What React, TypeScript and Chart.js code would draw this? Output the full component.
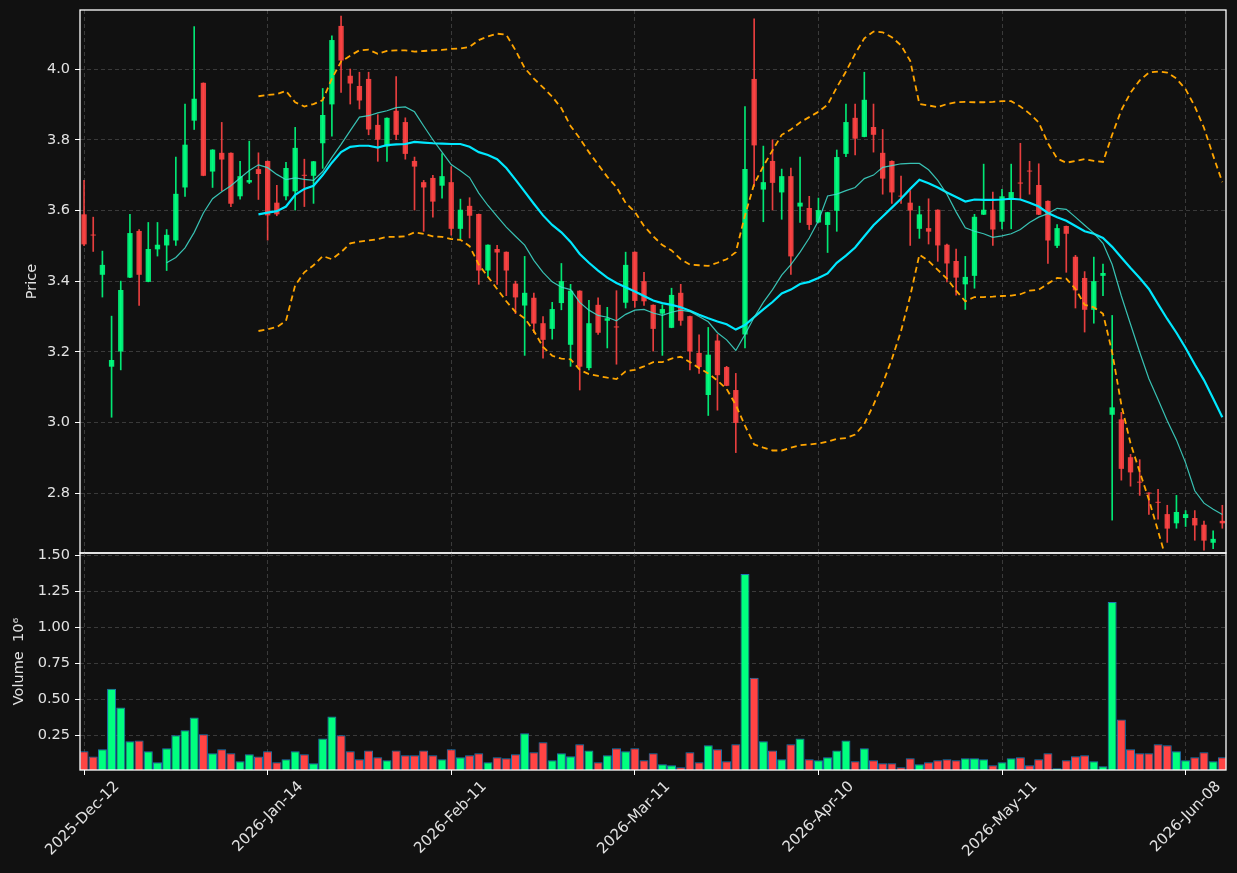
import React, { useEffect, useRef } from 'react';
import { Chart, registerables } from 'chart.js';

Chart.register(...registerables);

// ---------------- data ----------------
const xTickIndex = [0, 20, 40, 60, 80, 100, 120];
const xTickLabels = ['2025-Dec-12', '2026-Jan-14', '2026-Feb-11', '2026-Mar-11', '2026-Apr-10', '2026-May-11', '2026-Jun-08'];
const priceTicks = [2.8, 3.0, 3.2, 3.4, 3.6, 3.8, 4.0];
const volumeTicks = [0.25, 0.5, 0.75, 1.0, 1.25, 1.5];

const opens = [
  3.589, 3.531, 3.418, 3.158, 3.201, 3.410, 3.542, 3.398, 3.490, 3.501,
  3.515, 3.665, 3.854, 3.961, 3.710, 3.763, 3.763, 3.640, 3.679, 3.717,
  3.740, 3.622, 3.640, 3.654, 3.700, 3.698, 3.790, 3.900, 4.122, 3.981,
  3.952, 3.972, 3.842, 3.781, 3.882, 3.850, 3.740, 3.680, 3.692, 3.670,
  3.680, 3.548, 3.613, 3.590, 3.430, 3.491, 3.483, 3.393, 3.331, 3.353,
  3.281, 3.265, 3.338, 3.220, 3.373, 3.154, 3.333, 3.288, 3.271, 3.339,
  3.483, 3.400, 3.333, 3.308, 3.268, 3.367, 3.301, 3.197, 3.078, 3.232,
  3.157, 3.092, 3.249, 3.972, 3.659, 3.740, 3.651, 3.697, 3.611, 3.607,
  3.566, 3.559, 3.599, 3.760, 3.862, 3.808, 3.836, 3.763, 3.740, 3.641,
  3.622, 3.548, 3.550, 3.602, 3.503, 3.457, 3.391, 3.415, 3.588, 3.602,
  3.568, 3.634, 3.679, 3.712, 3.672, 3.627, 3.500, 3.556, 3.469, 3.409,
  3.319, 3.415, 3.022, 3.009, 2.902, 2.832, 2.801, 2.775, 2.741, 2.715,
  2.730, 2.730, 2.711, 2.660, 2.722,
];
const highs = [
  3.685, 3.581, 3.485, 3.301, 3.400, 3.589, 3.546, 3.566, 3.566, 3.546,
  3.751, 3.901, 4.120, 3.961, 3.772, 3.849, 3.763, 3.739, 3.796, 3.763,
  3.740, 3.671, 3.736, 3.835, 3.745, 3.739, 3.945, 4.094, 4.150, 4.000,
  3.991, 3.991, 3.871, 3.862, 3.979, 3.862, 3.751, 3.685, 3.699, 3.761,
  3.724, 3.632, 3.636, 3.590, 3.503, 3.501, 3.483, 3.400, 3.470, 3.366,
  3.300, 3.340, 3.450, 3.391, 3.373, 3.346, 3.353, 3.326, 3.373, 3.482,
  3.483, 3.425, 3.333, 3.333, 3.380, 3.391, 3.301, 3.248, 3.269, 3.249,
  3.159, 3.139, 3.894, 4.142, 3.782, 3.800, 3.717, 3.720, 3.751, 3.640,
  3.635, 3.595, 3.771, 3.901, 3.901, 3.991, 3.901, 3.829, 3.740, 3.697,
  3.656, 3.612, 3.633, 3.602, 3.505, 3.491, 3.470, 3.589, 3.731, 3.652,
  3.660, 3.731, 3.790, 3.739, 3.732, 3.627, 3.560, 3.556, 3.473, 3.427,
  3.468, 3.448, 3.303, 3.029, 2.910, 2.895, 2.801, 2.811, 2.766, 2.794,
  2.751, 2.751, 2.721, 2.694, 2.766,
];
const lows = [
  3.500, 3.484, 3.355, 3.015, 3.149, 3.410, 3.331, 3.398, 3.471, 3.430,
  3.501, 3.640, 3.829, 3.698, 3.665, 3.656, 3.611, 3.632, 3.676, 3.631,
  3.516, 3.585, 3.630, 3.601, 3.611, 3.620, 3.719, 3.810, 3.934, 3.901,
  3.887, 3.814, 3.739, 3.739, 3.800, 3.745, 3.601, 3.541, 3.581, 3.635,
  3.530, 3.520, 3.522, 3.391, 3.412, 3.391, 3.359, 3.308, 3.190, 3.254,
  3.182, 3.236, 3.319, 3.159, 3.092, 3.149, 3.249, 3.211, 3.165, 3.324,
  3.326, 3.331, 3.202, 3.190, 3.268, 3.275, 3.149, 3.139, 3.020, 3.035,
  3.104, 2.915, 3.211, 3.668, 3.568, 3.601, 3.575, 3.419, 3.566, 3.546,
  3.566, 3.481, 3.541, 3.752, 3.757, 3.808, 3.765, 3.646, 3.620, 3.620,
  3.501, 3.521, 3.505, 3.456, 3.398, 3.360, 3.320, 3.380, 3.588, 3.501,
  3.548, 3.548, 3.631, 3.646, 3.588, 3.450, 3.495, 3.425, 3.324, 3.256,
  3.281, 3.359, 2.724, 2.837, 2.820, 2.794, 2.740, 2.727, 2.661, 2.701,
  2.706, 2.667, 2.639, 2.643, 2.701,
];
const closes = [
  3.504, 3.529, 3.446, 3.177, 3.375, 3.536, 3.418, 3.491, 3.503, 3.531,
  3.647, 3.786, 3.916, 3.698, 3.772, 3.744, 3.619, 3.697, 3.686, 3.703,
  3.586, 3.589, 3.720, 3.777, 3.698, 3.739, 3.870, 4.082, 4.024, 3.959,
  3.911, 3.829, 3.800, 3.862, 3.814, 3.760, 3.724, 3.665, 3.625, 3.697,
  3.548, 3.602, 3.585, 3.430, 3.503, 3.481, 3.430, 3.354, 3.367, 3.280,
  3.234, 3.321, 3.400, 3.373, 3.158, 3.281, 3.254, 3.295, 3.269, 3.446,
  3.344, 3.343, 3.265, 3.321, 3.361, 3.288, 3.201, 3.157, 3.192, 3.134,
  3.104, 2.999, 3.717, 3.784, 3.680, 3.678, 3.697, 3.470, 3.622, 3.559,
  3.601, 3.595, 3.751, 3.850, 3.803, 3.913, 3.814, 3.690, 3.651, 3.639,
  3.600, 3.589, 3.540, 3.501, 3.450, 3.410, 3.412, 3.582, 3.602, 3.546,
  3.640, 3.652, 3.676, 3.710, 3.588, 3.515, 3.550, 3.534, 3.374, 3.319,
  3.400, 3.423, 3.043, 2.869, 2.859, 2.830, 2.799, 2.773, 2.700, 2.747,
  2.741, 2.709, 2.666, 2.671, 2.715,
];
// volume in millions
const volumes = [
  0.140, 0.103, 0.153, 0.574, 0.443, 0.209, 0.215, 0.140, 0.064, 0.160,
  0.250, 0.285, 0.374, 0.257, 0.126, 0.153, 0.126, 0.071, 0.119, 0.103,
  0.140, 0.064, 0.084, 0.140, 0.119, 0.057, 0.229, 0.381, 0.250, 0.140,
  0.084, 0.146, 0.098, 0.078, 0.146, 0.112, 0.112, 0.146, 0.112, 0.084,
  0.153, 0.098, 0.112, 0.126, 0.064, 0.098, 0.091, 0.119, 0.264, 0.133,
  0.202, 0.078, 0.126, 0.105, 0.188, 0.146, 0.064, 0.112, 0.160, 0.140,
  0.160, 0.078, 0.126, 0.050, 0.043, 0.029, 0.133, 0.064, 0.181, 0.153,
  0.071, 0.188, 1.368, 0.650, 0.209, 0.146, 0.084, 0.188, 0.229, 0.084,
  0.078, 0.098, 0.146, 0.215, 0.071, 0.160, 0.078, 0.057, 0.057, 0.029,
  0.091, 0.050, 0.064, 0.078, 0.084, 0.078, 0.091, 0.091, 0.084, 0.043,
  0.064, 0.091, 0.098, 0.043, 0.084, 0.126, 0.022, 0.078, 0.105, 0.112,
  0.071, 0.036, 1.175, 0.360, 0.153, 0.126, 0.126, 0.188, 0.181, 0.140,
  0.078, 0.098, 0.133, 0.071, 0.098,
];
const sma10 = [
  null, null, null, null, null, null, null, null, null,
  3.452, 3.467, 3.494, 3.538, 3.593, 3.633, 3.653, 3.670, 3.692, 3.713,
  3.729, 3.721, 3.702, 3.687, 3.692, 3.688, 3.685, 3.710, 3.750, 3.787,
  3.826, 3.864, 3.868, 3.876, 3.882, 3.891, 3.893, 3.879, 3.839, 3.800,
  3.765, 3.730, 3.712, 3.693, 3.649, 3.614, 3.583, 3.553, 3.527, 3.502,
  3.459, 3.425, 3.398, 3.383, 3.376, 3.340, 3.318, 3.303, 3.298, 3.288,
  3.306, 3.318, 3.320, 3.310, 3.303, 3.312, 3.318, 3.314, 3.300, 3.285,
  3.254, 3.234, 3.204, 3.249, 3.298, 3.340, 3.376, 3.417, 3.447, 3.482,
  3.522, 3.571, 3.641, 3.646, 3.656, 3.665, 3.690, 3.700, 3.722, 3.727,
  3.732, 3.733, 3.733, 3.715, 3.685, 3.646, 3.596, 3.551, 3.541, 3.534,
  3.524, 3.528, 3.534, 3.546, 3.566, 3.581, 3.591, 3.606, 3.603, 3.581,
  3.558, 3.536, 3.507, 3.447, 3.358, 3.278, 3.199, 3.124, 3.065, 3.005,
  2.951, 2.886, 2.807, 2.772, 2.755, 2.740,
];
const sma20 = [
  null, null, null, null, null, null, null, null, null, null,
  null, null, null, null, null, null, null, null, null,
  3.589, 3.594, 3.598, 3.611, 3.644, 3.661, 3.670, 3.700, 3.735, 3.765,
  3.780, 3.783, 3.783, 3.778, 3.785, 3.787, 3.788, 3.794, 3.792, 3.790,
  3.789, 3.788, 3.788, 3.780, 3.765, 3.757, 3.745, 3.720, 3.687, 3.653,
  3.619, 3.586, 3.559, 3.538, 3.511, 3.477, 3.452, 3.430, 3.410, 3.395,
  3.383, 3.371, 3.358, 3.345, 3.338, 3.333, 3.326, 3.316, 3.305, 3.295,
  3.286, 3.278, 3.263, 3.276, 3.298, 3.320, 3.341, 3.365, 3.376, 3.392,
  3.398, 3.409, 3.422, 3.452, 3.472, 3.495, 3.527, 3.558, 3.583, 3.608,
  3.633, 3.661, 3.687, 3.677, 3.665, 3.651, 3.638, 3.625, 3.631, 3.630,
  3.630, 3.631, 3.633, 3.631, 3.622, 3.611, 3.593, 3.581, 3.571, 3.556,
  3.541, 3.534, 3.522, 3.497, 3.467, 3.437, 3.409, 3.378, 3.335, 3.293,
  3.254, 3.211, 3.164, 3.120, 3.068, 3.015,
];
const bbUpper = [
  null, null, null, null, null, null, null, null, null, null,
  null, null, null, null, null, null, null, null, null,
  3.923, 3.927, 3.929, 3.938, 3.906, 3.894, 3.901, 3.912, 3.973, 4.021,
  4.038, 4.053, 4.055, 4.043, 4.051, 4.053, 4.053, 4.049, 4.051, 4.053,
  4.054, 4.057, 4.058, 4.063, 4.082, 4.092, 4.100, 4.097, 4.053, 4.003,
  3.973, 3.948, 3.922, 3.889, 3.839, 3.804, 3.765, 3.730, 3.695, 3.666,
  3.621, 3.596, 3.556, 3.527, 3.502, 3.487, 3.462, 3.447, 3.445, 3.443,
  3.452, 3.462, 3.482, 3.586, 3.675, 3.725, 3.770, 3.814, 3.829, 3.849,
  3.864, 3.879, 3.899, 3.948, 3.993, 4.043, 4.087, 4.106, 4.104, 4.090,
  4.067, 4.023, 3.901, 3.897, 3.892, 3.901, 3.906, 3.907, 3.906, 3.906,
  3.907, 3.909, 3.909, 3.894, 3.874, 3.849, 3.790, 3.747, 3.735, 3.740,
  3.745, 3.740, 3.737, 3.814, 3.884, 3.933, 3.968, 3.990, 3.993, 3.990,
  3.973, 3.943, 3.894, 3.834, 3.755, 3.680,
];
const bbLower = [
  null, null, null, null, null, null, null, null, null, null,
  null, null, null, null, null, null, null, null, null,
  3.259, 3.264, 3.270, 3.288, 3.388, 3.425, 3.445, 3.471, 3.462, 3.482,
  3.507, 3.512, 3.515, 3.519, 3.525, 3.525, 3.527, 3.538, 3.534, 3.527,
  3.525, 3.519, 3.517, 3.499, 3.447, 3.412, 3.378, 3.343, 3.313, 3.295,
  3.259, 3.214, 3.189, 3.181, 3.179, 3.149, 3.137, 3.132, 3.127, 3.123,
  3.145, 3.149, 3.159, 3.171, 3.171, 3.181, 3.186, 3.171, 3.154, 3.139,
  3.119, 3.095, 3.050, 2.991, 2.938, 2.929, 2.921, 2.921, 2.929, 2.936,
  2.938, 2.941, 2.946, 2.954, 2.956, 2.966, 2.996, 3.050, 3.110, 3.179,
  3.259, 3.358, 3.475, 3.457, 3.432, 3.407, 3.373, 3.343, 3.355, 3.355,
  3.356, 3.358, 3.359, 3.363, 3.373, 3.376, 3.393, 3.409, 3.407, 3.378,
  3.333, 3.326, 3.308, 3.199, 3.050, 2.941, 2.861, 2.782, 2.693, 2.603,
  2.530, 2.480, 2.450, 2.430, 2.420, 2.430,
];

// ---------------- style ----------------
const BG = '#111111';
const GRID = '#3a3a3a';
const TXT = '#e2e2e2';
const UP_VOL = '#00ff7f';
const DN_VOL = '#ff4444';
const UP_C = 'rgba(0,255,127,0.9)';
const DN_C = 'rgba(255,68,68,0.9)';
const FONT = 'DejaVu Sans';
const FS = 14.5;
const X_MIN = -0.44;
const X_MAX = 124.4;

const framePlugin = {
  id: 'frame',
  afterDraw(chart: any) {
    const { ctx, chartArea: a } = chart;
    ctx.save();
    ctx.strokeStyle = '#ffffff';
    ctx.lineWidth = 1.3;
    ctx.strokeRect(a.left, a.top, a.right - a.left, a.bottom - a.top);
    ctx.restore();
  },
};

export default function App() {
  const priceRef = useRef<HTMLCanvasElement>(null);
  const volRef = useRef<HTMLCanvasElement>(null);

  useEffect(() => {
    document.body.style.margin = '0';
    document.body.style.background = BG;
    Chart.defaults.font.family = FONT;

    const idx = opens.map((_, i) => i);
    const up = idx.map((i) => closes[i] >= opens[i]);
    const candleColors = up.map((u) => (u ? UP_C : DN_C));
    const volColors = up.map((u) => (u ? UP_VOL : DN_VOL));
    const toXY = (arr: (number | null)[]) => arr.map((v, i) => ({ x: i, y: v }));

    const lineDs = (label: string, arr: (number | null)[], color: string, width: number, dash: number[]) => ({
      type: 'line' as const,
      label,
      data: toXY(arr),
      borderColor: color,
      borderWidth: width,
      borderDash: dash,
      pointRadius: 0,
      fill: false,
      tension: 0,
      spanGaps: false,
      clip: 0,
      order: 0,
    });

    const xScaleBase = {
      type: 'linear' as const,
      min: X_MIN,
      max: X_MAX,
      offset: false,
      bounds: 'data' as const,
      afterBuildTicks: (s: any) => {
        s.ticks = xTickIndex.map((v) => ({ value: v }));
      },
    };

    const pc = new Chart(priceRef.current!, {
      type: 'bar',
      data: {
        datasets: [
          lineDs('BB upper', bbUpper, '#ffa500', 1.8, [6, 4]),
          lineDs('BB lower', bbLower, '#ffa500', 1.8, [6, 4]),
          lineDs('SMA10', sma10, 'rgba(64,224,208,0.85)', 1.2, []),
          lineDs('SMA20', sma20, '#00e8ff', 2.2, []),
          {
            type: 'bar',
            label: 'body',
            data: idx.map((i) => ({ x: i, y: [Math.min(opens[i], closes[i]), Math.max(opens[i], closes[i])] })),
            backgroundColor: candleColors,
            borderWidth: 0,
            grouped: false,
            categoryPercentage: 1,
            barPercentage: 0.58,
            minBarLength: 1,
            order: 1,
          } as any,
          {
            type: 'bar',
            label: 'wick',
            data: idx.map((i) => ({ x: i, y: [lows[i], highs[i]] })),
            backgroundColor: candleColors,
            borderWidth: 0,
            grouped: false,
            barThickness: 1,
            order: 2,
          } as any,
        ],
      },
      options: {
        animation: false,
        responsive: true,
        maintainAspectRatio: false,
        layout: { padding: { top: 10, right: 11, bottom: 3, left: 0 } },
        plugins: { legend: { display: false }, tooltip: { enabled: false } },
        scales: {
          x: {
            ...xScaleBase,
            grid: { color: GRID, lineWidth: 1, drawTicks: false, offset: false },
            border: { display: false, dash: [4, 3] },
            ticks: { display: false },
            afterFit: (s: any) => {
              s.height = 0;
              s.paddingLeft = 0;
              s.paddingRight = 0;
            },
          } as any,
          y: {
            type: 'linear',
            position: 'left',
            min: 2.631,
            max: 4.167,
            bounds: 'data',
            beginAtZero: false,
            grid: { color: GRID, lineWidth: 1, drawTicks: true, tickLength: 5, tickColor: '#ffffff', tickBorderDash: [] },
            border: { display: false, dash: [4, 3] },
            ticks: {
              color: TXT,
              font: { size: FS, family: FONT },
              padding: 5,
              callback: (v: any) => Number(v).toFixed(1),
            },
            title: { display: true, text: 'Price', color: TXT, font: { size: FS, family: FONT }, padding: { top: 24, bottom: 0 } },
            afterBuildTicks: (s: any) => {
              s.ticks = priceTicks.map((v) => ({ value: v }));
            },
            afterFit: (s: any) => {
              s.width = 80;
              s.paddingTop = 0;
              s.paddingBottom = 0;
            },
          } as any,
        },
      },
      plugins: [framePlugin],
    });

    const vc = new Chart(volRef.current!, {
      type: 'bar',
      data: {
        datasets: [
          {
            label: 'Volume',
            data: idx.map((i) => ({ x: i, y: volumes[i] })),
            backgroundColor: volColors,
            borderColor: '#1f77b4',
            borderWidth: 1,
            borderSkipped: false,
            grouped: false,
            categoryPercentage: 1,
            barPercentage: 0.98,
          } as any,
        ],
      },
      options: {
        animation: false,
        responsive: true,
        maintainAspectRatio: false,
        layout: { padding: { top: 13, right: 11, bottom: 0, left: 0 } },
        plugins: { legend: { display: false }, tooltip: { enabled: false } },
        scales: {
          x: {
            ...xScaleBase,
            grid: { color: GRID, lineWidth: 1, drawTicks: true, tickLength: 5, tickColor: '#ffffff', tickBorderDash: [], offset: false },
            border: { display: false, dash: [4, 3] },
            ticks: {
              color: TXT,
              font: { size: 15, family: FONT },
              autoSkip: false,
              maxRotation: 45,
              minRotation: 45,
              labelOffset: 33,
              padding: 3,
              callback: (v: any) => {
                const k = xTickIndex.indexOf(Number(v));
                return k >= 0 ? xTickLabels[k] : '';
              },
            },
            afterFit: (s: any) => {
              s.height = 103;
              s.paddingLeft = 0;
              s.paddingRight = 0;
            },
          } as any,
          y: {
            type: 'linear',
            position: 'left',
            min: 0.01,
            max: 1.514,
            bounds: 'data',
            beginAtZero: false,
            grid: { color: GRID, lineWidth: 1, drawTicks: true, tickLength: 5, tickColor: '#ffffff', tickBorderDash: [] },
            border: { display: false, dash: [4, 3] },
            ticks: {
              color: TXT,
              font: { size: FS, family: FONT },
              padding: 5,
              callback: (v: any) => Number(v).toFixed(2),
            },
            title: { display: true, text: 'Volume  10⁶', color: TXT, font: { size: FS, family: FONT }, padding: { top: 11, bottom: 0 } },
            afterBuildTicks: (s: any) => {
              s.ticks = volumeTicks.map((v) => ({ value: v }));
            },
            afterFit: (s: any) => {
              s.width = 80;
              s.paddingTop = 0;
              s.paddingBottom = 0;
            },
          } as any,
        },
      },
      plugins: [framePlugin],
    });

    return () => {
      pc.destroy();
      vc.destroy();
    };
  }, []);

  return (
    <div style={{ position: 'fixed', left: 0, top: 0, width: 1237, height: 873, background: BG, overflow: 'hidden' }}>
      <div style={{ position: 'absolute', left: 0, top: 0, width: 1237, height: 556 }}>
        <canvas ref={priceRef} />
      </div>
      <div style={{ position: 'absolute', left: 0, top: 540, width: 1237, height: 333 }}>
        <canvas ref={volRef} />
      </div>
    </div>
  );
}
